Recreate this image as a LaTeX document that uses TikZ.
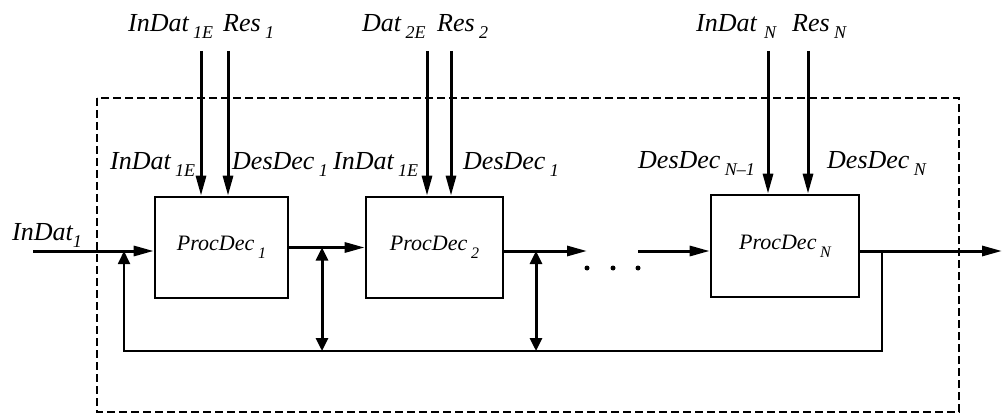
\documentclass[tikz,border=0pt]{standalone}
\usepackage{fontspec}
\setmainfont{Liberation Serif}
\usetikzlibrary{arrows.meta}
\newcommand{\lowidx}[1]{\raisebox{-7pt}{\fontsize{18}{20}\selectfont #1}}
\newcommand{\boxidx}[1]{\raisebox{-8pt}{\fontsize{16}{18}\selectfont #1}}

\begin{document}
\begin{tikzpicture}[x=1pt, y=-1pt,
  every node/.style={font=\fontsize{26}{30}\selectfont\itshape, inner sep=0pt},
  lbl/.style={anchor=base west},
  procbox/.style={draw, line width=2.6pt, font=\fontsize{22}{26}\selectfont\itshape},
  flow/.style={line width=3pt, -{Triangle[length=20pt,width=10pt]}},
  bus/.style={line width=3pt, {Triangle[length=13pt,width=12pt]}-{Triangle[length=13pt,width=12pt]}},
  fback/.style={line width=1.8pt, -{Triangle[length=13pt,width=12pt]}}]
\useasboundingbox (0,0) rectangle (1003,414);

% Frame
\draw[line width=2.2pt, dash pattern=on 8pt off 4pt] (97,98) rectangle (959,412);

% Blocks
\node[procbox, minimum width=133pt, minimum height=101pt] (box1) at (221.5,247.5) {ProcDec\,\boxidx{1}};
\node[procbox, minimum width=137pt, minimum height=101pt] (box2) at (434.5,247.5) {ProcDec\,\boxidx{2}};
\node[procbox, minimum width=148pt, minimum height=102pt] (boxN) at (785,246) {ProcDec\,\boxidx{N}};

% Labels
\node[lbl] (t1a) at (128,32) {InDat\,\lowidx{1E}};
\node[lbl] (t1b) at (223,32) {Res\,\lowidx{1}};
\node[lbl] (t2a) at (362,32) {Dat\,\lowidx{2E}};
\node[lbl] (t2b) at (437,32) {Res\,\lowidx{2}};
\node[lbl] (tNa) at (696,32) {InDat\;\lowidx{N}};
\node[lbl] (tNb) at (792,32) {Res\,\lowidx{N}};
\node[lbl] (i1a) at (110,170) {InDat\,\lowidx{1E}};
\node[lbl] (i1b) at (232,170) {DesDec\,\lowidx{1}};
\node[lbl] (i2a) at (333,170) {InDat\,\lowidx{1E}};
\node[lbl] (i2b) at (463,170) {DesDec\,\lowidx{1}};
\node[lbl] (iNa) at (638,168) {DesDec\,\lowidx{N\textendash1}};
\node[lbl] (iNb) at (827,168) {DesDec\,\lowidx{N}};
\node[lbl] (inlbl) at (12,240) {InDat\lowidx{1}};

% Inputs from above
\coordinate (a1) at (201,51);
\coordinate (b1) at (228,51);
\coordinate (a2) at (427,51);
\coordinate (b2) at (451,51);
\coordinate (aN) at (768,51);
\coordinate (bN) at (808,51);
\draw[flow] (a1) -- (a1 |- box1.north);
\draw[flow] (b1) -- (b1 |- box1.north);
\draw[flow] (a2) -- (a2 |- box2.north);
\draw[flow] (b2) -- (b2 |- box2.north);
\draw[flow] (aN) -- (aN |- boxN.north);
\draw[flow] (bN) -- (bN |- boxN.north);

% Chain
\coordinate (inp) at (33,251);
\coordinate (gapL) at (587,251);
\coordinate (gapR) at (638,251);
\coordinate (outp) at (1002,251);
\draw[flow] (inp) -- (inp -| box1.west);
\draw[flow] (box1.east) -- (box2.west);
\draw[flow] (box2.east |- gapL) -- (gapL);
\draw[flow] (gapR) -- (gapR -| boxN.west);
\draw[flow] (boxN.east |- outp) -- (outp);
\fill (587,268) circle (2.5pt) (613,268) circle (2.5pt) (638,268) circle (2.5pt);

% Feedback bus
\coordinate (fbR) at (882,251);
\coordinate (fbL) at (124,251);
\coordinate (busy) at (0,351);
\coordinate (tap1) at (322,351);
\coordinate (tap2) at (536,351);
\draw[fback] (fbR) -- (fbR |- busy) -- (fbL |- busy) -- (fbL);
\draw[bus] (tap1 |- box1.east) -- (tap1);
\draw[bus] (tap2 |- gapL) -- (tap2);

\end{tikzpicture}
\end{document}
